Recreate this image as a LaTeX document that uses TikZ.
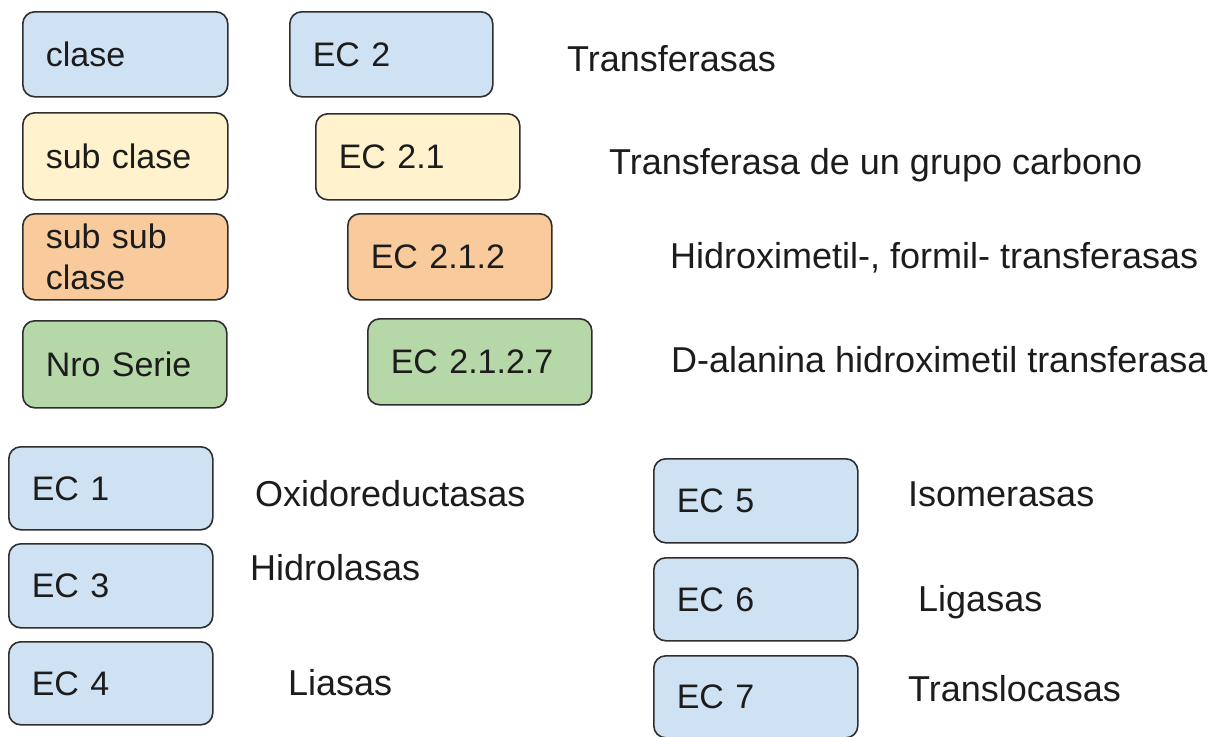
\documentclass[tikz,border=0pt]{standalone}
\usepackage{fontspec}
\setmainfont{Liberation Sans}
\definecolor{ink}{HTML}{1C1C1C}
\definecolor{boxline}{HTML}{2E2E2E}
\definecolor{cblue}{HTML}{CFE2F3}
\definecolor{cyellow}{HTML}{FFF2CC}
\definecolor{corange}{HTML}{F9CB9C}
\definecolor{cgreen}{HTML}{B6D7A8}
\begin{document}
\begin{tikzpicture}[x=1pt,y=-1pt,
  box/.style={draw=boxline, line width=1.6pt, rounded corners=12pt,
    anchor=north west, inner xsep=23pt, inner ysep=0pt, align=left,
    minimum height=85pt, minimum width=205pt, text width=159pt,
    font=\fontsize{34}{41}\selectfont, text=ink},
  lbl/.style={anchor=base west, inner sep=0pt,
    font=\fontsize{36}{43}\selectfont, text=ink}]
\useasboundingbox (0,0) rectangle (1220,736);

% legend of the hierarchy levels
\node[box, fill=cblue]   (clase)  at (22,11)  {clase};
\node[box, fill=cyellow, minimum height=87pt] (subclase) at (22,112) {sub clase};
\node[box, fill=corange, minimum height=86pt] (subsub) at (22,213) {sub sub\\clase};
\node[box, fill=cgreen, minimum height=87pt, minimum width=204pt, text width=158pt] (serie) at (22,320) {Nro Serie};

% example: EC 2.1.2.7
\node[box, fill=cblue, minimum width=203pt, text width=157pt] (ec2) at (289,11) {EC 2};
\node[box, fill=cyellow, minimum height=86pt, minimum width=204pt, text width=158pt] (ec21) at (315,113) {EC 2.1};
\node[box, fill=corange, minimum height=86pt, minimum width=204pt, text width=158pt] (ec212) at (347,213) {EC 2.1.2};
\node[box, fill=cgreen, minimum height=86pt, minimum width=224pt, text width=178pt] (ec2127) at (367,318) {EC 2.1.2.7};

\node[lbl] (tEC2)    at (567,71)  {Transferasas};
\node[lbl] (tEC21)   at (609,174) {Transferasa de un grupo carbono};
\node[lbl] (tEC212)  at (670,268) {Hidroximetil-, formil- transferasas};
\node[lbl] (tEC2127) at (671,372) {D-alanina hidroximetil transferasa};

% the seven enzyme classes
\node[box, fill=cblue, minimum height=83pt, minimum width=204pt, text width=158pt] (ec1) at (8,446) {EC 1};
\node[box, fill=cblue, minimum height=84pt, minimum width=204pt, text width=158pt] (ec3) at (8,543) {EC 3};
\node[box, fill=cblue, minimum height=83pt, minimum width=204pt, text width=158pt] (ec4) at (8,641) {EC 4};
\node[box, fill=cblue, minimum height=84pt, minimum width=204pt, text width=158pt] (ec5) at (653,458) {EC 5};
\node[box, fill=cblue, minimum height=83pt, minimum width=204pt, text width=158pt] (ec6) at (653,557) {EC 6};
\node[box, fill=cblue, minimum height=82pt, minimum width=204pt, text width=158pt] (ec7) at (653,655) {EC 7};

\node[lbl] (t1) at (255,506) {Oxidoreductasas};
\node[lbl] (t3) at (250,580) {Hidrolasas};
\node[lbl] (t4) at (288,695) {Liasas};
\node[lbl] (t5) at (908,506) {Isomerasas};
\node[lbl] (t6) at (918,611) {Ligasas};
\node[lbl] (t7) at (908,701) {Translocasas};
\end{tikzpicture}
\end{document}
